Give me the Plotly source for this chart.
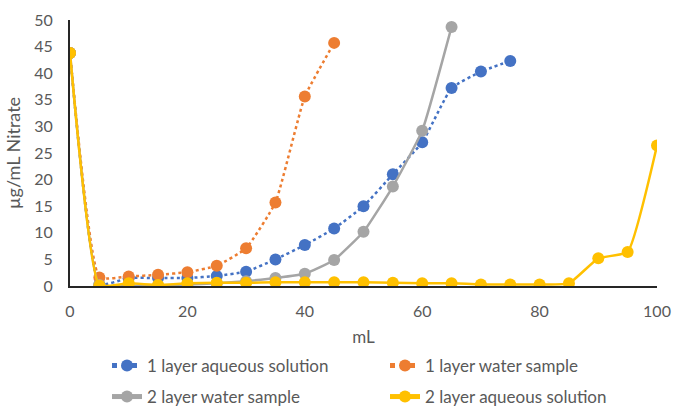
import plotly.graph_objects as go

# Volume eluted (mL)
ml_1aq = [0, 5, 10, 15, 20, 25, 30, 35, 40, 45, 50, 55, 60, 65, 70, 75]
ml_1ws = [0, 5, 10, 15, 20, 25, 30, 35, 40, 45]
ml_2ws = [0, 5, 10, 15, 20, 25, 30, 35, 40, 45, 50, 55, 60, 65]
ml_2aq = [0, 5, 10, 15, 20, 25, 30, 35, 40, 45, 50, 55, 60, 65, 70, 75, 80, 85, 90, 95, 100]

# Nitrate concentration (µg/mL)
nit_1aq = [43.8, 0.3, 1.5, 1.5, 1.5, 1.9, 2.7, 5.0, 7.7, 10.8, 15.0, 21.0, 27.0, 37.2, 40.3, 42.3]
nit_1ws = [43.8, 1.6, 1.8, 2.1, 2.6, 3.8, 7.1, 15.7, 35.6, 45.7]
nit_2ws = [43.8, 0.2, 0.0, 0.1, 0.3, 0.5, 0.9, 1.5, 2.3, 4.9, 10.2, 18.7, 29.2, 48.7]
nit_2aq = [43.8, 0.1, 0.5, 0.2, 0.5, 0.6, 0.6, 0.7, 0.7, 0.7, 0.7, 0.6, 0.5, 0.5,
           0.3, 0.3, 0.3, 0.5, 5.2, 6.4, 26.4]

x_ticks = [0, 20, 40, 60, 80, 100]
y_ticks = [0, 5, 10, 15, 20, 25, 30, 35, 40, 45, 50]

BLUE, ORANGE, GRAY, YELLOW = "#4472C4", "#ED7D31", "#A5A5A5", "#FFC000"
TXT = "#595959"
FONT = "Lato, Liberation Sans, sans-serif"
W, H = 673, 410

# one legend per entry so the 2x2 key can be laid out freely
series = [
    ("1 layer aqueous solution", ml_1aq, nit_1aq, BLUE, "dot", "legend", 107, 366),
    ("1 layer water sample", ml_1ws, nit_1ws, ORANGE, "dot", "legend2", 385, 366),
    ("2 layer water sample", ml_2ws, nit_2ws, GRAY, "solid", "legend3", 107, 397),
    ("2 layer aqueous solution", ml_2aq, nit_2aq, YELLOW, "solid", "legend4", 385, 397),
]

fig = go.Figure()
legends = {}
for name, xs, ys, col, dash, leg, lx, ly in series:
    fig.add_trace(go.Scatter(
        x=xs, y=ys, name=name, mode="lines+markers",
        line=dict(color=col, width=2.5, dash=dash, shape="spline", smoothing=0.4),
        marker=dict(color=col, size=12),
        legend=leg,
    ))
    legends[leg] = dict(
        orientation="h", xref="container", yref="container",
        x=lx / W, y=(H - ly) / H, xanchor="left", yanchor="middle",
        itemwidth=30, itemsizing="constant",
        font=dict(family=FONT, size=17, color=TXT),
        bgcolor="rgba(0,0,0,0)",
    )

fig.update_layout(
    width=W, height=H,
    margin=dict(l=70, r=16, t=20, b=124, autoexpand=False),
    plot_bgcolor="white", paper_bgcolor="white",
    font=dict(family=FONT, size=16, color=TXT),
    showlegend=True,
    **legends,
    xaxis=dict(
        range=[0, 100], tickvals=x_ticks, showgrid=False, zeroline=False,
        showline=True, linecolor="#262626", linewidth=2, ticks="",
        ticklabelstandoff=10,
        tickfont=dict(family=FONT, size=16, color=TXT),
        title=dict(text="mL", font=dict(family=FONT, size=17, color=TXT), standoff=12),
    ),
    yaxis=dict(
        range=[0, 50], tickvals=y_ticks, showgrid=False, zeroline=False,
        showline=True, linecolor="#262626", linewidth=2, ticks="",
        ticklabelstandoff=12,
        tickfont=dict(family=FONT, size=16, color=TXT),
        title=dict(text="µg/mL Nitrate", font=dict(family=FONT, size=18, color=TXT), standoff=9),
    ),
)

fig.write_html("out.html")
